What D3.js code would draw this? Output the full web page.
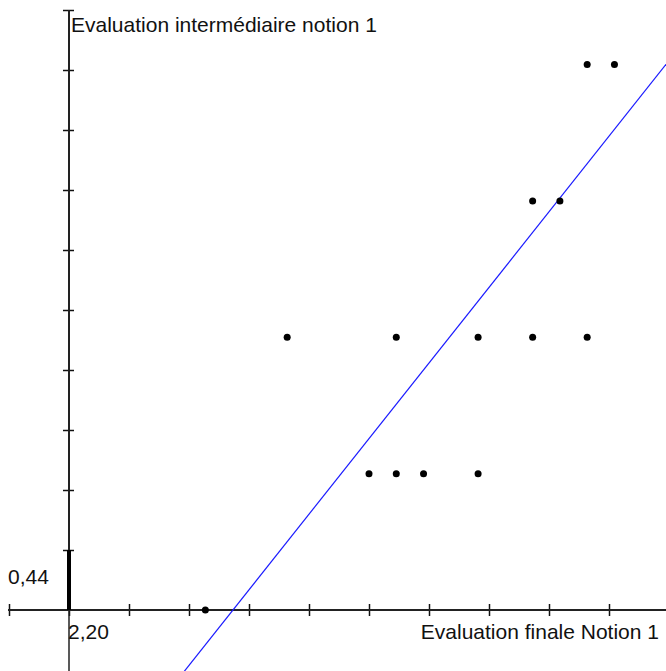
<!DOCTYPE html>
<html><head><meta charset="utf-8">
<script src="https://cdn.jsdelivr.net/npm/d3@7"></script>
<style>html,body{margin:0;padding:0;background:#fff;}svg{display:block;}</style>
</head><body>
<svg id="chart" width="666" height="671"></svg>
<script>
// Data: final evaluation (x) vs intermediate evaluation (y)
const finalScores = [5, 8, 11, 12, 12, 13, 15, 15, 17, 17, 18, 19, 19, 20];
const interScores = [0, 2, 1, 1, 2, 1, 1, 2, 2, 3, 3, 2, 4, 4];
const lineCoef = [0.252, -1.515]; // slope, intercept of the blue regression line
const xUnit = 2.2, yUnit = 0.44;
const xTickLabel = "2,20", yTickLabel = "0,44";
const xTitle = "Evaluation finale Notion 1";
const yTitle = "Evaluation intermédiaire notion 1";

const W = 666, H = 671;
const svg = d3.select("#chart");
const x = d3.scaleLinear().domain([0, xUnit]).range([69, 129]);
const y = d3.scaleLinear().domain([0, yUnit]).range([610, 550]);
const font = "'Liberation Sans', Arial, sans-serif";

const xTicks = d3.range(-1, 10).map(k => k * xUnit);
const yTicks = d3.range(1, 11).map(k => k * yUnit);

// x axis
const gx = svg.append("g").attr("transform", `translate(0,${y(0)})`)
  .call(d3.axisBottom(x).tickValues(xTicks).tickFormat("").tickSizeOuter(0));
gx.select(".domain").remove();
gx.selectAll(".tick line").attr("y1", -6).attr("y2", 6).attr("stroke", "#111").attr("stroke-width", 1.5);
gx.append("line").attr("x1", 8).attr("x2", W).attr("stroke", "#222").attr("stroke-width", 2);

// y axis
const gy = svg.append("g").attr("transform", `translate(${x(0)},0)`)
  .call(d3.axisLeft(y).tickValues(yTicks).tickFormat("").tickSizeOuter(0));
gy.select(".domain").remove();
gy.selectAll(".tick line").attr("x1", -6).attr("x2", 5).attr("stroke", "#111").attr("stroke-width", 1.5);
gy.append("line").attr("y1", y(yTicks[yTicks.length - 1])).attr("y2", y(0)).attr("stroke", "#222").attr("stroke-width", 2);
gy.append("line").attr("y1", y(0)).attr("y2", H).attr("stroke", "#222").attr("stroke-width", 1.5);
// bold unit segment
gy.append("line").attr("y1", y(yUnit)).attr("y2", y(0)).attr("stroke", "#000").attr("stroke-width", 4);

// regression line
const xDom = [x.invert(0), x.invert(W)];
svg.append("line")
  .attr("x1", x(xDom[0])).attr("y1", y(lineCoef[0] * xDom[0] + lineCoef[1]))
  .attr("x2", x(xDom[1])).attr("y2", y(lineCoef[0] * xDom[1] + lineCoef[1]))
  .attr("stroke", "#1a1aff").attr("stroke-width", 1.2);

// points
svg.append("g").selectAll("circle").data(finalScores.map((v, i) => [v, interScores[i]]))
  .join("circle").attr("cx", d => x(d[0])).attr("cy", d => y(d[1])).attr("r", 3.5).attr("fill", "#000");

// labels
const txt = (s, px, py, anchor) => svg.append("text").attr("x", px).attr("y", py)
  .attr("text-anchor", anchor || "start").attr("font-family", font).attr("font-size", 21).attr("fill", "#111").text(s);
txt(yTitle, 71, 32);
txt(xTitle, 659, 639, "end");
txt(yTickLabel, 8, 584);
txt(xTickLabel, 68, 639);
</script>
</body></html>
